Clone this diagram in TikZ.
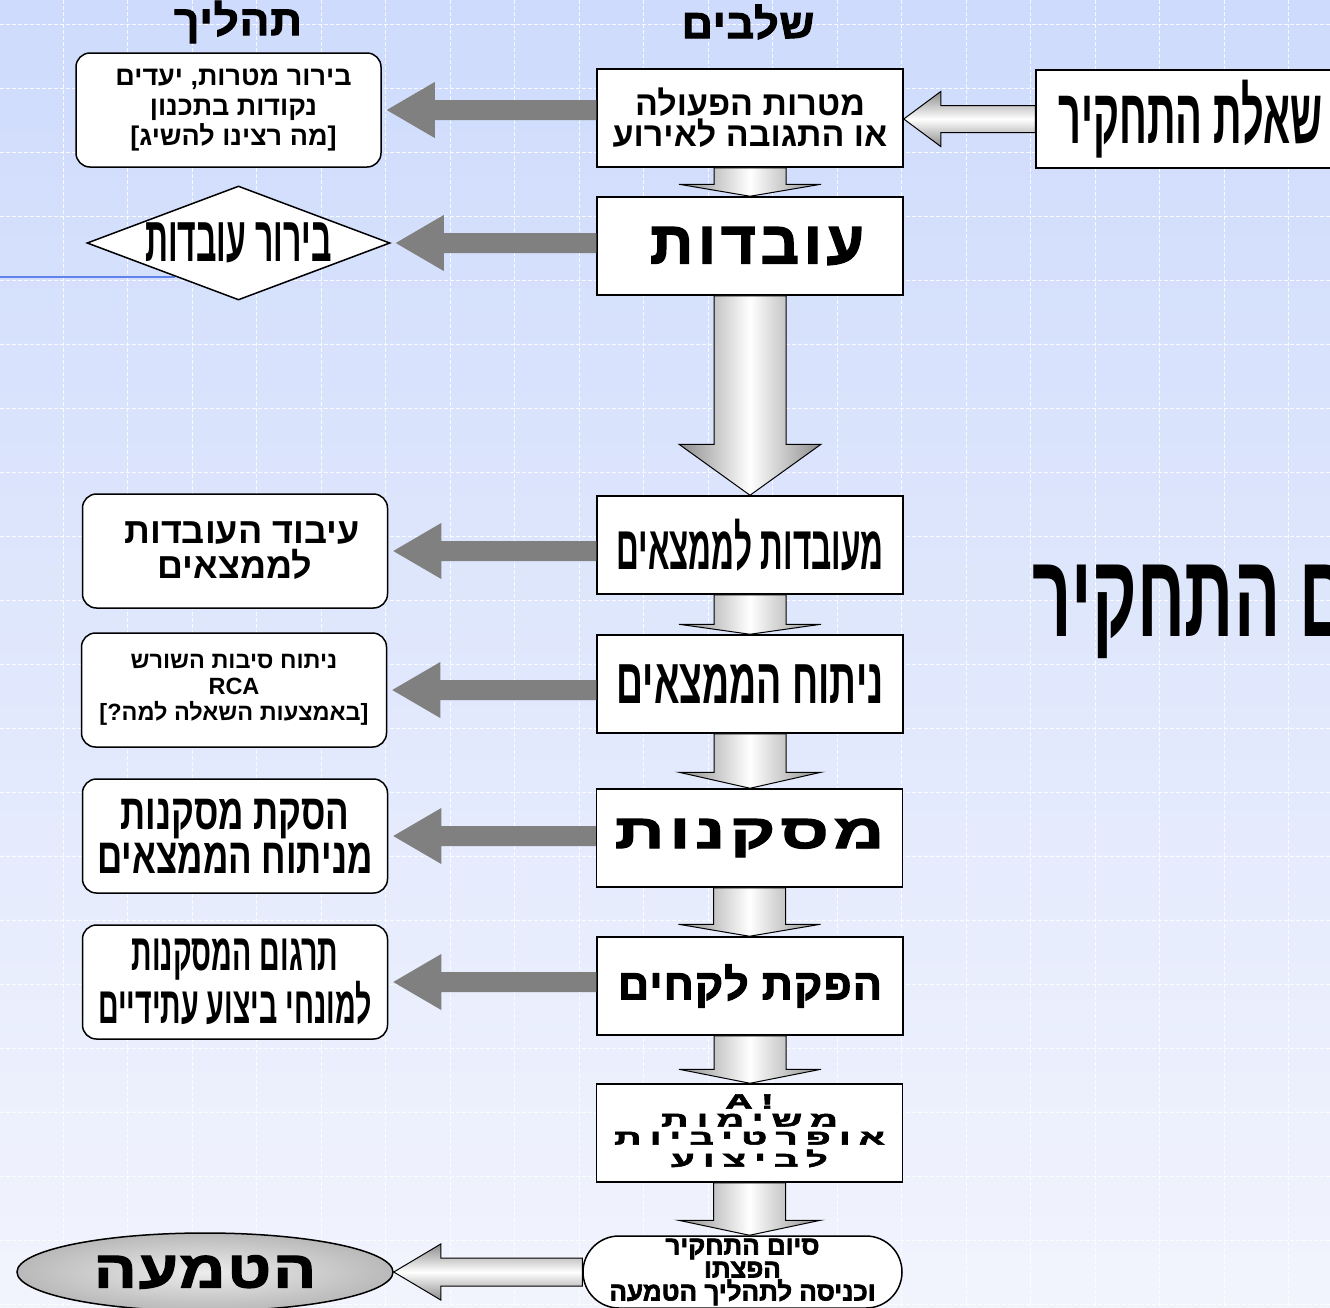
\documentclass[tikz,border=0pt]{standalone}
\usepackage{fontspec}
\usepackage{graphicx}
\usetikzlibrary{shapes.geometric,calc}
\TeXXeTstate=1
\newfontfamily\hebfont[Script=Hebrew]{Liberation Sans}
\definecolor{bgtop}{RGB}{206,219,252}
\definecolor{bgbottom}{RGB}{242,244,253}
\definecolor{arrowgray}{RGB}{128,128,128}
\definecolor{silver}{RGB}{140,140,140}
\definecolor{ruleblue}{RGB}{95,130,235}
\newcommand\heb[1]{\beginR #1\endR}
\newcommand\hfont[3]{\hebfont\bfseries\fontsize{#1}{#2}\selectfont\addfontfeature{FakeStretch=#3}}
\newcommand\hvfont[4]{\hebfont\bfseries\fontsize{#1}{#2}\selectfont\addfontfeatures{FakeBold=2.5,LetterSpace=#3,FakeStretch=#4}}

\begin{document}
\begin{tikzpicture}[x=1pt,y=-1pt,
    gridline/.style={white,line width=1pt,dash pattern=on 4pt off 2pt,opacity=0.85},
    stepbox/.style={draw,line width=1.5pt,fill=white,minimum width=306pt,minimum height=98pt,inner sep=0pt,align=center},
    procbox/.style={draw,line width=1.5pt,fill=white,rounded corners=14pt,minimum width=305pt,minimum height=114pt,inner sep=0pt,align=center},
    endbox/.style={draw,line width=1.5pt,fill=white,rounded corners=36pt,minimum width=319pt,minimum height=72pt,inner sep=0pt,align=center},
    silverdown/.style={draw,line width=1pt,left color=silver,right color=silver,middle color=white},
    silverleft/.style={draw,line width=1pt,top color=silver,bottom color=silver,middle color=white}]
    \useasboundingbox (0,0) rectangle (1330,1307);
    \clip (0,0) rectangle (1330,1307);

    % Background and grid
    \fill[top color=bgtop,bottom color=bgbottom] (0,0) rectangle (1330,1307);
    \foreach \gx in {63,127.5,...,1330} {
        \draw[gridline] (\gx,0) -- (\gx,1307);
    }
    \foreach \gy in {24,88,...,1307} {
        \draw[gridline] (0,\gy) -- (1330,\gy);
    }
    \draw[ruleblue,line width=1.5pt] (0,277) -- (175,277);

    % Column headers
    \node[font=\hvfont{42}{42}{2}{1.05}] (hproc) at (238,22) {\heb{תהליך}};
    \node[font=\hvfont{41}{41}{2}{1.05}] (hstage) at (748,22) {\heb{שלבים}};

    % Stages column
    \node[stepbox,font=\hfont{34}{31}{1}] (goals) at (750,118) {\heb{מטרות הפעולה}\\\heb{או התגובה לאירוע}};
    \node[stepbox,font=\hvfont{60}{60}{8}{1}] (facts) at (750,246) {\hspace{14pt}\heb{עובדות}};
    \node[stepbox,font=\hfont{62}{62}{0.51}] (findings) at (750,545) {\heb{מעובדות לממצאים}};
    \node[stepbox,font=\hfont{64}{64}{0.585}] (analysis) at (750,684) {\heb{ניתוח הממצאים}};
    \node[stepbox,font=\hvfont{48}{48}{10}{1.45}] (concl) at (749.5,838) {\heb{מסקנות}};
    \node[stepbox,font=\hvfont{43}{43}{3}{1}] (lessons) at (750,986) {\heb{הפקת לקחים}};
    \node[stepbox,font=\hvfont{38}{31}{22}{1}] (tasks) at (749.5,1133) {\scalebox{1}[0.55]{\begin{tabular}{@{}c@{}}A!\\\heb{משימות}\\\heb{אופרטיביות}\\\heb{לביצוע}\end{tabular}}};
    \node[endbox,font=\hvfont{26}{23}{0}{1}] (finish) at (742.5,1272) {\heb{סיום התחקיר}\\\heb{הפצתו}\\\heb{וכניסה לתהליך הטמעה}};
    \node[stepbox,minimum width=309pt,font=\hfont{78}{78}{0.51}] (question) at (1190.5,119) {\heb{שאלת התחקיר}};
    \node[anchor=west,inner sep=0pt,font=\hfont{118}{118}{0.58}] (title) at (1032,612) {\heb{ם התחקיר}};

    % Process column
    \node[procbox,font=\hfont{27}{30}{1}] (clarify) at (228.5,110) {\hspace{10pt}\heb{בירור מטרות, יעדים}\\\hspace{10pt}\heb{נקודות בתכנון}\\\hspace{10pt}\heb{[מה רצינו להשיג]}};
    \node[diamond,draw,line width=1.5pt,fill=white,aspect=2.66,minimum width=303pt,minimum height=114pt,inner sep=0pt,font=\hfont{64}{64}{0.5}] (factcheck) at (238.5,243) {\heb{בירור עובדות}};
    \node[procbox,font=\hfont{36}{35}{1}] (process) at (235,551) {\hspace{14pt}\heb{עיבוד העובדות}\\\heb{לממצאים}};
    \node[procbox,font=\hfont{23.5}{26}{1}] (rca) at (234,690) {\heb{ניתוח סיבות השורש}\\RCA\\\heb{[באמצעות השאלה למה?]}};
    \node[procbox,font=\hfont{50}{44}{0.7}] (derive) at (235,836) {\heb{הסקת מסקנות}\\\heb{מניתוח הממצאים}};
    \node[procbox,font=\hfont{52}{44}{0.55}] (translate) at (235,982) {\heb{תרגום המסקנות}\\\heb{למונחי ביצוע עתידיים}};
    \node[ellipse,draw,line width=1.5pt,inner color=gray!15,outer color=gray!55,minimum width=376pt,minimum height=78pt,inner sep=0pt,font=\hvfont{52}{52}{4}{1.22}] (embed) at (205,1272) {\heb{הטמעה}};

    % Block arrows between stages
    \def\downarr#1#2#3{%
        \draw[silverdown] let \p1=(#1.south), \p2=(#2.north) in
            (\x1-36pt,\y1) -- (\x1+36pt,\y1) -- (\x1+36pt,\y2+#3*1pt) -- (\x1+71pt,\y2+#3*1pt)
            -- (\x1,\y2) -- (\x1-71pt,\y2+#3*1pt) -- (\x1-36pt,\y2+#3*1pt) -- cycle;}
    \foreach \a/\b/\h in {goals/facts/12, facts/findings/51, findings/analysis/10, analysis/concl/16,
                          concl/lessons/12, lessons/tasks/14, tasks/finish/15} {
        \downarr{\a}{\b}{\h}
    }

    % Gray arrows from stage to process
    \def\grayarr#1#2{%
        \fill[arrowgray] let \p1=(#1.west), \p2=(#2.east) in
            (\x1,\y2+10pt) -- (\x2+53pt,\y2+10pt) -- (\x2+53pt,\y2+28pt) -- (\x2+5pt,\y2)
            -- (\x2+53pt,\y2-28pt) -- (\x2+53pt,\y2-10pt) -- (\x1,\y2-10pt) -- cycle;}
    \foreach \a/\b in {goals/clarify, facts/factcheck, findings/process, analysis/rca,
                       concl/derive, lessons/translate} {
        \grayarr{\a}{\b}
    }

    % Horizontal block arrows
    \def\silverarr#1#2#3#4#5{%
        \draw[silverleft] let \p1=(#1.west), \p2=(#2.east) in
            (\x1,\y1+#3*1pt) -- (\x2+#5*1pt,\y1+#3*1pt) -- (\x2+#5*1pt,\y1+#4*1pt) -- (\x2,\y1)
            -- (\x2+#5*1pt,\y1-#4*1pt) -- (\x2+#5*1pt,\y1-#3*1pt) -- (\x1,\y1-#3*1pt) -- cycle;}
    \silverarr{question}{goals}{13.5}{27.5}{37}
    \silverarr{finish}{embed}{14}{28}{47}
\end{tikzpicture}
\end{document}
